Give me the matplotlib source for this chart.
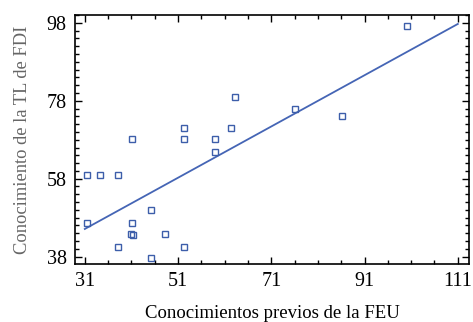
import numpy as np
import matplotlib.pyplot as plt
from matplotlib.ticker import FixedLocator, MultipleLocator

# puntos
feu = [41.2, 52.3, 52.3, 59.0, 62.3, 63.2, 59.0, 76.1, 86.2, 100.0,
       31.5, 34.2, 38.1, 31.5, 41.2, 41.0, 41.4, 45.3, 48.1, 38.1, 45.3, 52.3]
fdi = [68.1, 71.1, 68.1, 68.1, 71.1, 79.0, 64.9, 76.0, 74.1, 97.1,
       59.0, 59.0, 59.0, 46.6, 46.6, 43.9, 43.5, 49.9, 43.7, 40.6, 37.6, 40.6]

# recta ajustada (extremos)
fit_x = [31, 111]
fit_y = [45.1, 97.7]

x_ticks = [31, 51, 71, 91, 111]
y_ticks = [38, 58, 78, 98]

blue = '#3d5eaa'

plt.rcParams['font.family'] = ['Liberation Serif', 'DejaVu Serif']

fig = plt.figure(figsize=(4.73, 3.22), dpi=100)
ax = fig.add_axes([0.1586, 0.180, 0.8329, 0.7734])

ax.plot(fit_x, fit_y, color='#4565b5', lw=1.3)
ax.plot(feu, fdi, ls='none', marker='s', ms=4.2, mfc='none', mec=blue, mew=1.0)

ax.set_xlim(28.9, 113.4)
ax.set_ylim(36.1, 100.0)

ax.xaxis.set_major_locator(FixedLocator(x_ticks))
ax.yaxis.set_major_locator(FixedLocator(y_ticks))
ax.xaxis.set_minor_locator(MultipleLocator(5, offset=1))
ax.yaxis.set_minor_locator(MultipleLocator(2))

ax.tick_params(which='both', direction='in', top=True, right=True, width=1.0)
ax.tick_params(which='major', length=5, labelsize=14.5, pad=6)
ax.tick_params(which='minor', length=3)
for s in ax.spines.values():
    s.set_linewidth(1.2)

ax.set_xlabel('Conocimientos previos de la FEU', fontsize=13.5, labelpad=10)
ax.set_ylabel('Conocimiento de la TL de FDI', fontsize=13.3, color='#666666', labelpad=11)

fig.savefig('out.png', dpi=100)
